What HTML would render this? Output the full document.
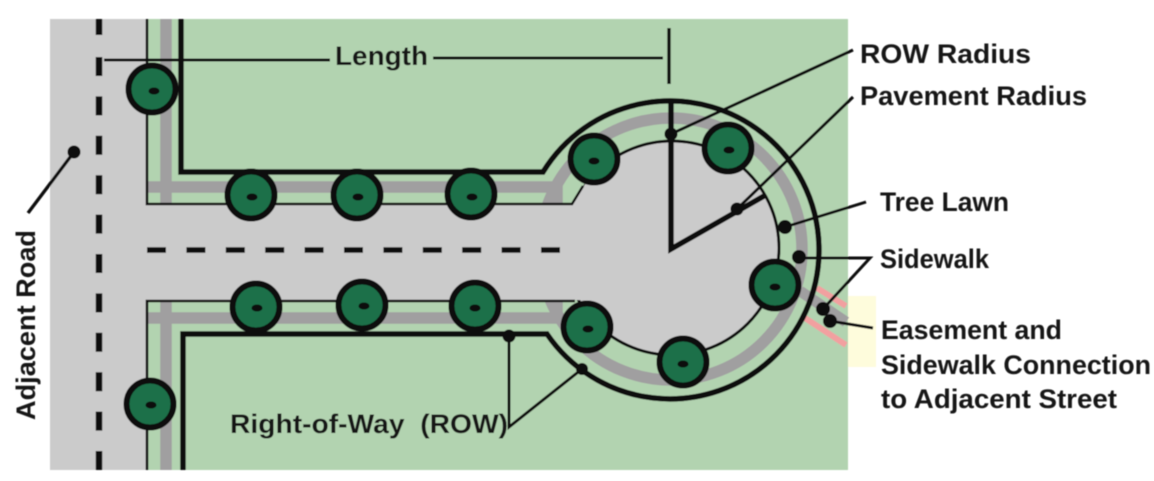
<!DOCTYPE html>
<html><head><meta charset="utf-8"><style>
html,body{margin:0;padding:0;background:#fff;width:1154px;height:481px;overflow:hidden}
svg{display:block}
text{font-family:"Liberation Sans",sans-serif;font-weight:bold;font-size:27px;fill:#141414}
</style></head><body>
<svg width="1154" height="481" viewBox="0 0 1154 481" xmlns="http://www.w3.org/2000/svg">
<defs><filter id="b" x="-2%" y="-2%" width="104%" height="104%"><feGaussianBlur stdDeviation="0.6"/></filter></defs>
<g filter="url(#b)">
<rect x="50" y="19" width="98" height="451" fill="#cbcbcb"/>
<rect x="147" y="19" width="701" height="451" fill="#b2d3b0"/>
<rect x="848" y="296" width="28" height="71" fill="#fefcdc"/>
<!-- easement -->
<path d="M800 291L846 322" stroke="#a09fa0" stroke-width="11" fill="none"/>
<path d="M817 288L846 306M805 318L846 345" stroke="#f2a0a0" stroke-width="6" fill="none"/>
<!-- sidewalk -->
<g fill="none" stroke="#a09fa0" stroke-width="11.5">
<circle cx="671" cy="249" r="131"/>
<path d="M166 19V204M147 187H557V204M147 318H557V301M166 301V470"/>
</g>
<!-- pavement -->
<circle cx="672" cy="248" r="107" fill="#cbcbcb" stroke="#111" stroke-width="3"/>
<rect x="147" y="205" width="440" height="95" fill="#cbcbcb"/>
<path d="M572 206L590 176L640 150L680 190L680 310L600 300L572 299Z" fill="#cbcbcb"/>
<path d="M147 19V204H572L583 186M147 470V301H575" fill="none" stroke="#111" stroke-width="2.6"/>
<!-- ROW -->
<path d="M181 19V172H543A149 149 0 1 1 547 334H183V470" fill="none" stroke="#0a0a0a" stroke-width="5.5"/>
<!-- dashes -->
<path d="M99 19V35" stroke="#0a0a0a" stroke-width="6.5"/>
<path d="M99 57V470" fill="none" stroke="#0a0a0a" stroke-width="6.5" stroke-dasharray="19 20.4"/>
<path d="M147 250H560" fill="none" stroke="#0a0a0a" stroke-width="5.5" stroke-dasharray="19 20.4"/>
<!-- radius -->
<path d="M671 102V249L764 196" fill="none" stroke="#0a0a0a" stroke-width="5.5"/>
<!-- leaders -->
<g fill="none" stroke="#0a0a0a" stroke-width="3">
<path d="M104 60H330M433 58H663"/>
<path d="M669 28V84" stroke-width="3.4"/>
<path d="M671 134L853 50"/>
<path d="M737 209L853 97" />
<path d="M785 227L866 202"/>
<path d="M799 258H870L823 309"/>
<path d="M830 321L873 328"/>
<path d="M509 336V427L582 369"/>
<path d="M74 152L28 213" stroke-width="3.4"/>
</g>
<g fill="#0a0a0a">
<circle cx="74" cy="152" r="6.5"/><circle cx="671" cy="134" r="6.5"/><circle cx="737" cy="209" r="6.5"/>
<circle cx="785" cy="227" r="7"/><circle cx="799" cy="257" r="7"/><circle cx="823" cy="309" r="7"/>
<circle cx="830" cy="321" r="7"/><circle cx="509" cy="336" r="6.5"/><circle cx="582" cy="369" r="6"/>
</g>
<!-- trees -->
<g fill="#1a7048" stroke="#0a0a0a" stroke-width="6">
<circle cx="152" cy="89" r="23.5"/><circle cx="251" cy="195" r="23.5"/><circle cx="357" cy="195" r="23.5"/>
<circle cx="471" cy="194" r="23.5"/><circle cx="594" cy="159" r="23.5"/><circle cx="728" cy="148" r="23.5"/>
<circle cx="775" cy="285" r="23.5"/><circle cx="587" cy="327" r="23.5"/><circle cx="683" cy="362" r="23.5"/>
<circle cx="256" cy="307" r="23.5"/><circle cx="362" cy="305" r="23.5"/><circle cx="475" cy="306" r="23.5"/>
<circle cx="150" cy="404" r="23.5"/>
</g>
<g fill="#0a0a0a">
<ellipse cx="154" cy="91" rx="5.5" ry="3.5"/><ellipse cx="252" cy="197" rx="5.5" ry="3.5"/><ellipse cx="358" cy="197" rx="5.5" ry="3.5"/>
<ellipse cx="472" cy="197" rx="5.5" ry="3.5"/><ellipse cx="594" cy="161" rx="5.5" ry="3.5"/><ellipse cx="729" cy="150" rx="5.5" ry="3.5"/>
<ellipse cx="775" cy="287" rx="5.5" ry="3.5"/><ellipse cx="588" cy="329" rx="5.5" ry="3.5"/><ellipse cx="683" cy="364" rx="5.5" ry="3.5"/>
<ellipse cx="257" cy="308" rx="5.5" ry="3.5"/><ellipse cx="364" cy="306" rx="5.5" ry="3.5"/><ellipse cx="475" cy="308" rx="5.5" ry="3.5"/>
<ellipse cx="151" cy="405" rx="5.5" ry="3.5"/>
</g>
<!-- labels -->
<text x="335" y="65" textLength="93" lengthAdjust="spacingAndGlyphs">Length</text>
<text x="860" y="63" textLength="171" lengthAdjust="spacingAndGlyphs">ROW  Radius</text>
<text x="860" y="105" textLength="227" lengthAdjust="spacingAndGlyphs">Pavement Radius</text>
<text x="880" y="211" textLength="129" lengthAdjust="spacingAndGlyphs">Tree Lawn</text>
<text x="880" y="268" textLength="109" lengthAdjust="spacingAndGlyphs">Sidewalk</text>
<text x="881" y="339" textLength="181" lengthAdjust="spacingAndGlyphs">Easement and</text>
<text x="881" y="374" textLength="270" lengthAdjust="spacingAndGlyphs">Sidewalk Connection</text>
<text x="881" y="408" textLength="236" lengthAdjust="spacingAndGlyphs">to Adjacent Street</text>
<text x="230" y="433" textLength="278" lengthAdjust="spacingAndGlyphs" xml:space="preserve">Right-of-Way  (ROW)</text>
<text transform="translate(35 420) rotate(-90)" textLength="190" lengthAdjust="spacingAndGlyphs">Adjacent Road</text>
</g>
</svg>
</body></html>
